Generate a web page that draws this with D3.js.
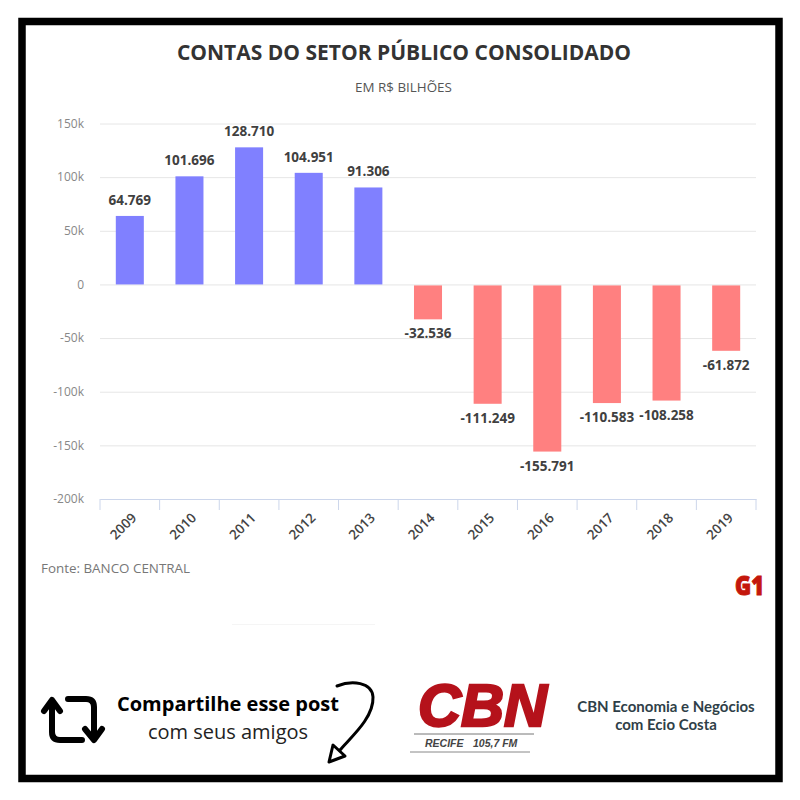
<!DOCTYPE html>
<html><head><meta charset="utf-8">
<script src="https://cdn.jsdelivr.net/npm/d3@7"></script>
<style>html,body{margin:0;padding:0;background:#fff}svg{display:block}text{font-family:"Open Sans",sans-serif}</style>
</head><body><svg id="c" width="800" height="800"></svg>
<script>
const years=["2009","2010","2011","2012","2013","2014","2015","2016","2017","2018","2019"];
const values=[64769,101696,128710,104951,91306,-32536,-111249,-155791,-110583,-108258,-61872];
const valueLabels=["64.769","101.696","128.710","104.951","91.306","-32.536","-111.249","-155.791","-110.583","-108.258","-61.872"];
const yTicks=[150000,100000,50000,0,-50000,-100000,-150000,-200000];
const svg=d3.select("#c");
svg.append("rect").attr("x",22).attr("y",21.5).attr("width",757).attr("height",757).attr("fill","#fff").attr("stroke","#000").attr("stroke-width",7.5);
const x=d3.scaleBand().domain(years).range([100,756]).paddingInner(0.53).paddingOuter(0.265);
const y=d3.scaleLinear().domain([-200000,150000]).range([499,123.5]);
const yAxis=svg.append("g").attr("transform","translate(100,0)").call(d3.axisLeft(y).tickValues(yTicks).tickSize(-656).tickFormat(d=>d===0?"0":(d/1000)+"k"));
yAxis.select(".domain").remove();
yAxis.selectAll("line").attr("stroke","#e6e6e6");
yAxis.selectAll("text").attr("x",-16).attr("font-size",12).attr("fill","#888").style("font-family","'Open Sans'");
const xAxis=svg.append("g").attr("transform","translate(0,499)").call(d3.axisBottom(x).tickValues([]).tickSizeOuter(0));
xAxis.select(".domain").attr("stroke","#ccd6eb");
const step=x.step();
svg.append("g").selectAll("line").data(d3.range(years.length+1)).join("line")
 .attr("x1",i=>x(years[0])-x.paddingOuter()*step+i*step).attr("x2",i=>x(years[0])-x.paddingOuter()*step+i*step)
 .attr("y1",499).attr("y2",510).attr("stroke","#ccd6eb");
svg.append("g").selectAll("text").data(years).join("text")
 .attr("transform",d=>`translate(${x(d)+x.bandwidth()/2+1},512) rotate(-45)`)
 .attr("text-anchor","end").attr("dy","0.7em").attr("font-size",13.5).attr("font-weight",600).attr("fill","#444").text(d=>d);
svg.append("g").selectAll("rect").data(values).join("rect")
 .attr("x",(d,i)=>x(years[i])).attr("width",x.bandwidth())
 .attr("y",d=>d>=0?y(d)+1:y(0)+1).attr("height",d=>Math.abs(y(d)-y(0))-1)
 .attr("fill",d=>d>=0?"#8080ff":"#ff8080");
svg.append("g").selectAll("text").data(values).join("text")
 .attr("x",(d,i)=>x(years[i])+x.bandwidth()/2).attr("y",d=>d>=0?y(d)-10:y(d)+19)
 .attr("text-anchor","middle").attr("font-size",13.5).attr("font-weight",700).attr("fill","#404040")
 .text((d,i)=>valueLabels[i]);
svg.append("text").attr("x",404).attr("y",60).attr("text-anchor","middle").attr("font-size",21).attr("font-weight",700).attr("fill","#333").text("CONTAS DO SETOR PÚBLICO CONSOLIDADO");
svg.append("text").attr("x",403.5).attr("y",92).attr("text-anchor","middle").attr("font-size",13.4).attr("fill","#555").text("EM R$ BILHÕES");
svg.append("text").attr("x",41).attr("y",573).attr("font-size",13.4).attr("fill","#777").text("Fonte: BANCO CENTRAL");
svg.append("line").attr("x1",232).attr("x2",375).attr("y1",624.5).attr("y2",624.5).attr("stroke","#f5f5f5");
// G1 logo
svg.append("text").attr("x",735).attr("y",595).attr("font-size",26).attr("font-weight",800).attr("fill","#c4170c").attr("stroke","#c4170c").attr("stroke-width",1).attr("textLength",29).attr("lengthAdjust","spacingAndGlyphs").style("font-family","'Open Sans'").text("G1");
// share block
const icon=svg.append("g").attr("fill","none").attr("stroke","#000").attr("stroke-width",6).attr("stroke-linejoin","round").attr("stroke-linecap","round");
icon.append("path").attr("d","M52 703V732Q52 740 60 740H82");
icon.append("path").attr("d","M44 711L52 700L60 711");
icon.append("path").attr("d","M68 699H86Q94 699 94 707V737");
icon.append("path").attr("d","M85 729L94 740L102 729");
svg.append("text").attr("x",228).attr("y",711).attr("text-anchor","middle").attr("font-size",20).attr("font-weight",700).attr("fill","#000").text("Compartilhe esse post");
svg.append("text").attr("x",228).attr("y",739).attr("text-anchor","middle").attr("font-size",20).attr("fill","#222").text("com seus amigos");
const arr=svg.append("g").attr("fill","none").attr("stroke","#000").attr("stroke-width",3).attr("stroke-linejoin","round").attr("stroke-linecap","round");
arr.append("path").attr("d","M337 686C352 680 372 682 373 697C374 718 350 738 340 750");
arr.append("path").attr("d","M333 745L329 762L345 756Z");
// CBN
svg.append("text").attr("x",418).attr("y",726).attr("font-size",60).attr("font-weight",700).attr("font-style","italic").attr("fill","#b5121b").attr("stroke","#b5121b").attr("stroke-width",2.5).attr("textLength",129).attr("lengthAdjust","spacingAndGlyphs").style("font-family","'Liberation Sans'").text("CBN");
svg.append("line").attr("x1",414).attr("x2",534).attr("y1",734).attr("y2",734).attr("stroke","#777");
svg.append("line").attr("x1",410).attr("x2",530).attr("y1",752).attr("y2",752).attr("stroke","#888");
svg.append("text").attr("x",425).attr("y",747).attr("font-size",10.5).attr("font-weight",700).attr("font-style","italic").attr("fill","#444").style("font-family","'Liberation Sans'").text("RECIFE");
svg.append("text").attr("x",473).attr("y",747).attr("font-size",10.5).attr("font-weight",700).attr("font-style","italic").attr("fill","#444").style("font-family","'Liberation Sans'").text("105,7 FM");
svg.append("text").attr("x",666).attr("y",712).attr("text-anchor","middle").attr("font-size",15).attr("font-weight",700).attr("fill","#2f3f48").style("font-family","'Lato'").text("CBN Economia e Negócios");
svg.append("text").attr("x",666).attr("y",730).attr("text-anchor","middle").attr("font-size",15).attr("font-weight",700).attr("fill","#2f3f48").style("font-family","'Lato'").text("com Ecio Costa");
</script></body></html>
